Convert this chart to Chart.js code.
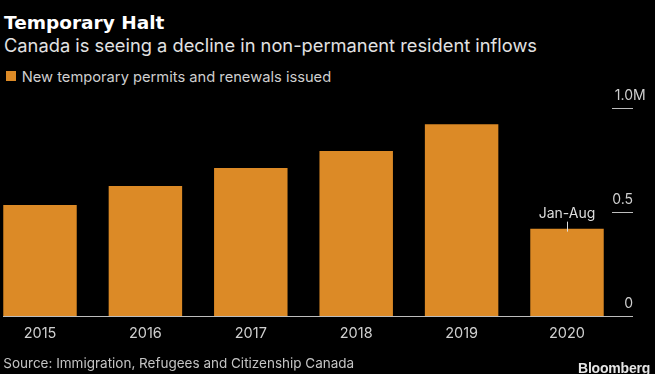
<!DOCTYPE html>
<html>
<head>
<meta charset="utf-8">
<script src="https://cdn.jsdelivr.net/npm/chart.js@4"></script>
<style>
  html, body { margin: 0; padding: 0; background: #000; overflow: hidden; }
  body { width: 655px; height: 374px; position: relative; }
  .txt { position: absolute; white-space: nowrap; line-height: 1; }
  #title { left: 4px; top: 11.6px; font: bold 18.5px "DejaVu Sans"; color: #fff; }
  #subtitle { left: 4px; top: 34.2px; font: 18.3px Inter; color: #e2e2e2; }
  #legend { left: 21.7px; top: 68.3px; font: 14.7px Inter; color: #cfcfcf; }
  #legend-box { position: absolute; left: 6px; top: 71px; width: 10px; height: 10px; background: #dc8a26; }
  #source { left: 3.3px; top: 355px; font: 13.5px Inter; color: #c4c4c4; }
  #brand { left: 578px; top: 360.2px; font: bold 14px "Liberation Sans"; color: #e6e6e6; letter-spacing: -0.2px; }
  #chart { position: absolute; left: -20px; top: 0; }
</style>
</head>
<body>
<div id="title" class="txt">Temporary Halt</div>
<div id="subtitle" class="txt">Canada is seeing a decline in non-permanent resident inflows</div>
<div id="legend-box"></div>
<div id="legend" class="txt">New temporary permits and renewals issued</div>
<canvas id="chart" width="675" height="374"></canvas>
<div id="source" class="txt">Source: Immigration, Refugees and Citizenship Canada</div>
<div id="brand" class="txt">Bloomberg</div>
<script>
// data (millions)
const years = ["2015", "2016", "2017", "2018", "2019", "2020"];
const permits = [0.534, 0.625, 0.712, 0.793, 0.922, 0.42];
const yTickValues = [0, 0.5, 1.0];
const yTickLabels = ["0", "0.5", "1.0"];
const yUnit = "M";
const noteLabel = "Jan-Aug";
const noteIndex = 5;

const BAR_COLOR = "#dc8a26";
const AXIS_COLOR = "#bdbdbd";
const LABEL_COLOR = "#cfcfcf";
const CANVAS_SHIFT = 20; // canvas sits 20px left of the page edge

const bloombergAxis = {
  id: "bloombergAxis",
  afterDatasetsDraw(chart) {
    const { ctx, scales } = chart;
    const y = scales.y;
    const right = 633 + CANVAS_SHIFT;
    ctx.save();
    // baseline
    const y0 = Math.round(y.getPixelForValue(0)) + 0.5;
    ctx.strokeStyle = AXIS_COLOR;
    ctx.lineWidth = 1;
    ctx.beginPath();
    ctx.moveTo(3 + CANVAS_SHIFT, y0);
    ctx.lineTo(right, y0);
    ctx.stroke();
    // right-hand ticks with labels sitting on them
    ctx.font = '14px Inter';
    ctx.textBaseline = "alphabetic";
    yTickValues.forEach((v, i) => {
      const py = Math.round(y.getPixelForValue(v)) + 0.5;
      if (v !== 0) {
        ctx.beginPath();
        ctx.moveTo(612 + CANVAS_SHIFT, py);
        ctx.lineTo(right, py);
        ctx.stroke();
      }
      ctx.fillStyle = LABEL_COLOR;
      ctx.textAlign = "right";
      ctx.fillText(yTickLabels[i], right, py - 9);
      if (i === yTickValues.length - 1) {
        ctx.textAlign = "left";
        ctx.fillText(yUnit, right, py - 9);
      }
    });
    // Jan-Aug note on the last bar
    const bar = chart.getDatasetMeta(0).data[noteIndex];
    if (bar) {
      const bx = Math.round(bar.x) + 0.5;
      ctx.strokeStyle = "#dddddd";
      ctx.beginPath();
      ctx.moveTo(bx, bar.y - 7);
      ctx.lineTo(bx, bar.y + 3);
      ctx.stroke();
      ctx.fillStyle = "#dddddd";
      ctx.textAlign = "center";
      ctx.fillText(noteLabel, bar.x, bar.y - 11);
    }
    ctx.restore();
  },
};

const ctx = document.getElementById("chart").getContext("2d");
const chart = new Chart(ctx, {
  type: "bar",
  data: {
    labels: years,
    datasets: [
      {
        label: "New temporary permits and renewals issued",
        data: permits,
        backgroundColor: BAR_COLOR,
        borderWidth: 0,
        barPercentage: 0.697,
        categoryPercentage: 1,
      },
    ],
  },
  plugins: [bloombergAxis],
  options: {
    responsive: false,
    animation: false,
    layout: { padding: { left: 7.3, right: 35.3, top: 108, bottom: 28 } },
    plugins: {
      legend: { display: false },
      tooltip: { enabled: false },
    },
    scales: {
      x: {
        grid: { display: false, drawTicks: false },
        border: { display: false },
        ticks: {
          color: LABEL_COLOR,
          font: { family: "Inter", size: 14.5 },
          padding: 9,
          maxRotation: 0,
        },
        afterFit: (scale) => {
          scale.height = 30;
        },
      },
      y: {
        display: false,
        min: 0,
        max: 1.0,
      },
    },
  },
});
</script>
</body>
</html>
